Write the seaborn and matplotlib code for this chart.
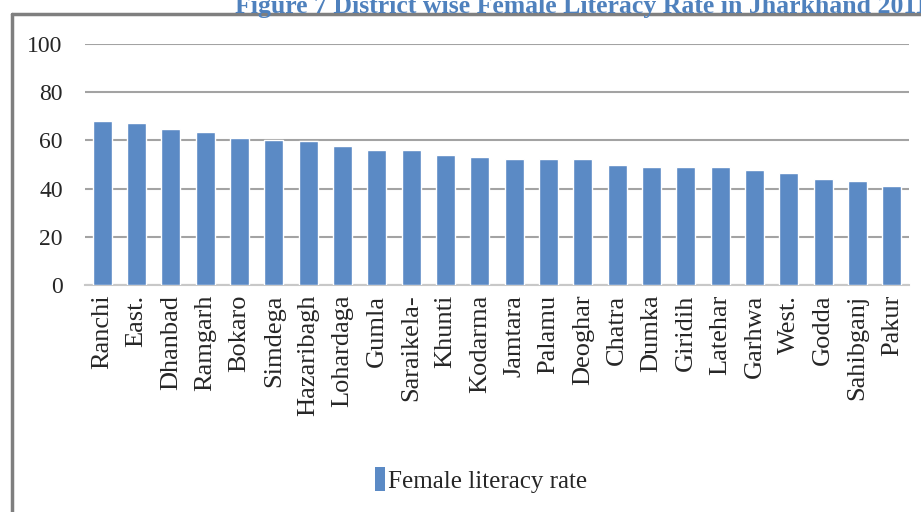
import pandas as pd
import numpy as np
import matplotlib
matplotlib.use('Agg')
import matplotlib.pyplot as plt
import seaborn as sns
from matplotlib.lines import Line2D
from matplotlib.patches import Patch

# district wise female literacy rate (Jharkhand, 2011)
districts = ['Ranchi', 'East.', 'Dhanbad', 'Ramgarh', 'Bokaro', 'Simdega',
             'Hazaribagh', 'Lohardaga', 'Gumla', 'Saraikela-', 'Khunti',
             'Kodarma', 'Jamtara', 'Palamu', 'Deoghar', 'Chatra', 'Dumka',
             'Giridih', 'Latehar', 'Garhwa', 'West.', 'Godda', 'Sahibganj',
             'Pakur']
female_rate = [68.2, 67.3, 64.6, 63.4, 61.0, 60.2, 59.6, 57.8, 56.2, 56.2,
               53.8, 53.0, 52.2, 52.2, 52.2, 49.8, 49.0, 49.0, 49.0, 47.7,
               46.3, 44.1, 43.3, 41.0]
y_ticks = [0, 20, 40, 60, 80, 100]
series_name = 'Female literacy rate'
title = 'Figure 7 District wise Female Literacy Rate in Jharkhand 2011'

df = pd.DataFrame({'district': districts, 'rate': female_rate})

sns.set_style("white")
plt.rcParams['font.family'] = ['Liberation Serif', 'DejaVu Serif']

W, H = 921, 512
fig = plt.figure(figsize=(W / 100, H / 100), dpi=100)
ax = fig.add_axes([85 / W, 1 - 285 / H, (909 - 85) / W, (285 - 44) / H])

bar_color = '#5B8AC5'
sns.barplot(data=df, x='district', y='rate', color=bar_color,
            width=0.55, saturation=1, ax=ax, zorder=3)

ax.set_ylim(0, 100)
ax.set_xlim(-0.5, len(districts) - 0.5)
ax.set_yticks(y_ticks)
ax.set_yticklabels([str(v) for v in y_ticks], fontsize=17)
ax.tick_params(axis='y', length=0, pad=16)
ax.tick_params(axis='x', length=0, pad=7)
ax.set_xticks(range(len(districts)))
ax.set_xticklabels(districts, rotation=90, fontsize=19, va='top')
ax.set_xlabel('')
ax.set_ylabel('')

# gridlines
ax.yaxis.grid(True, color='#a3a3a3', linewidth=1.5, zorder=0)
ax.set_axisbelow(True)
for s in ['top', 'right', 'left']:
    ax.spines[s].set_visible(False)
ax.spines['bottom'].set_color('#c8c8c8')
ax.spines['bottom'].set_linewidth(1.5)

# legend under the chart
handle = Patch(facecolor=bar_color, edgecolor='none')
fig.legend([handle], [series_name], loc='center',
           bbox_to_anchor=(481 / W, 1 - 480 / H), frameon=False,
           fontsize=18, handlelength=0.4, handleheight=1.1,
           handletextpad=0.15)

# outer chart frame (left and top edges visible)
fig.add_artist(Line2D([12 / W, 12 / W], [0, 1 - 14 / H],
                      transform=fig.transFigure, color='#7f7f7f', lw=2.5))
fig.add_artist(Line2D([12 / W, 1], [1 - 14 / H, 1 - 14 / H],
                      transform=fig.transFigure, color='#7f7f7f', lw=2.5))

# title, partly cut off at the top of the image
fig.text(928 / W, 1 - 13 / H, title, ha='right', va='baseline',
         fontsize=18.5, fontweight='bold', color='#4F81BD',
         family=['Liberation Serif'])

plt.savefig('out.png', dpi=100)
plt.close()
